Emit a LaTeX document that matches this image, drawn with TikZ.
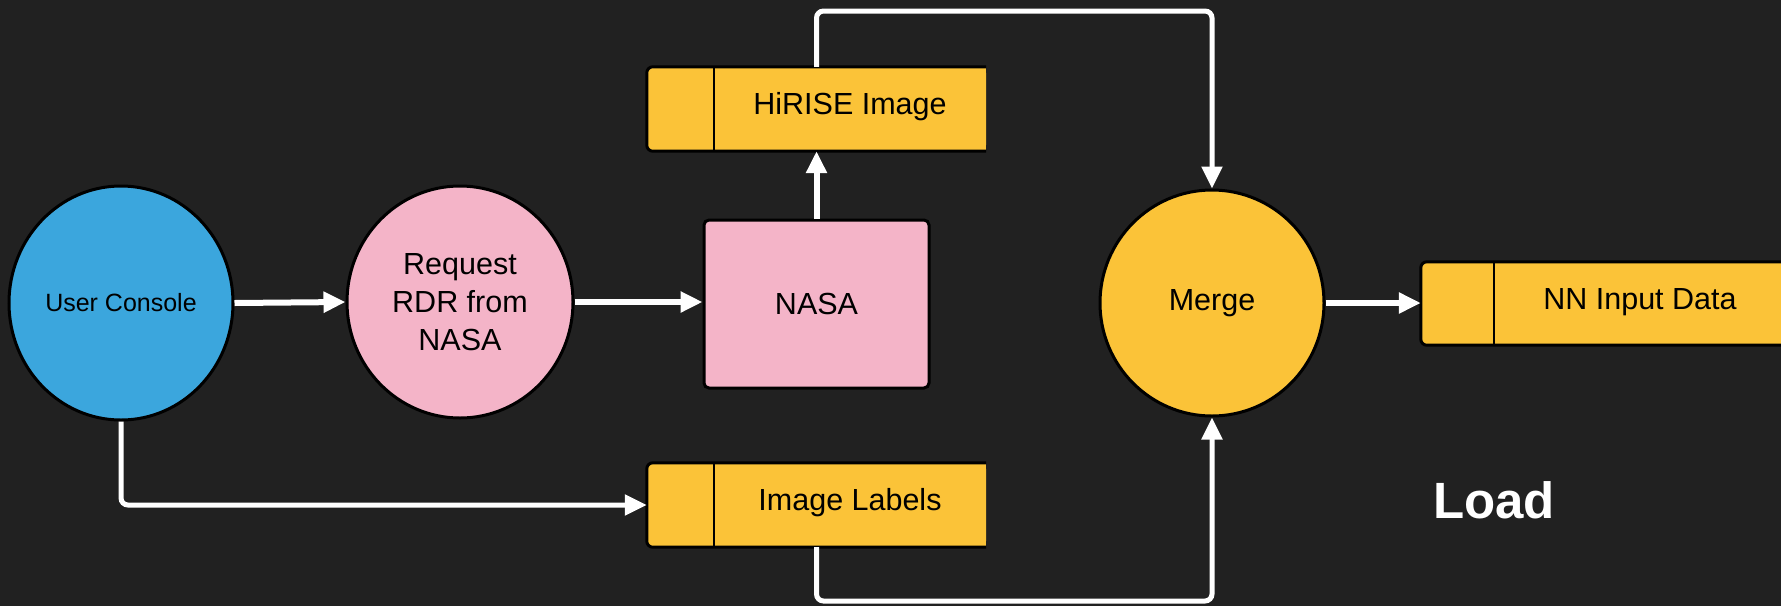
\documentclass[tikz,border=0pt]{standalone}
\usepackage{fontspec}
\setmainfont{Liberation Sans}
\usetikzlibrary{arrows.meta,shapes.geometric}
\definecolor{bg}{HTML}{212121}
\definecolor{ucblue}{HTML}{3BA6DD}
\definecolor{pinkc}{HTML}{F4B4C8}
\definecolor{yel}{HTML}{FBC338}
\begin{document}
\begin{tikzpicture}[x=1pt,y=-1pt,
  txt/.style={font=\fontsize{30.5}{38}\selectfont, text=black, align=center},
  circ/.style={ellipse, draw=black, line width=3pt, inner sep=0pt, align=center, text=black},
  store/.style={rectangle, fill=yel, rounded corners=6pt, minimum width=339pt, minimum height=84pt, inner sep=0pt},
  border/.style={draw=black, line width=3pt, rounded corners=6pt},
  divider/.style={draw=black, line width=2.5pt},
  conn/.style={draw=white, line width=6pt, -{Triangle[length=22pt,width=20pt]}},
  bent/.style={draw=white, line width=5pt, rounded corners=7pt, -{Triangle[length=22pt,width=20pt]}}
]
\fill[bg] (0,0) rectangle (1781,606);
\useasboundingbox (0,0) rectangle (1781,606);

% circles
\node[circ, fill=ucblue, minimum width=224pt, minimum height=234pt, font=\fontsize{25}{30}\selectfont] (uc) at (121,303) {User Console};
\node[circ, fill=pinkc, minimum width=226pt, minimum height=232pt, font=\fontsize{30.5}{38}\selectfont] (req) at (460,302) {Request\\RDR from\\NASA};
\node[circ, fill=yel, minimum width=224pt, minimum height=226pt, font=\fontsize{30.5}{38}\selectfont] (merge) at (1212,303) {Merge};

% NASA
\node[rectangle, fill=pinkc, draw=black, line width=3pt, rounded corners=5pt, minimum width=225pt, minimum height=168pt, txt] (nasa) at (816.5,304) {NASA};

% data stores
\node[store] (hir) at (816.5,109) {};
\fill[yel] (hir.north) rectangle (hir.south east);
\draw[border] (hir.north east) -| (hir.south west) -- (hir.south east);
\draw[divider] (714,67) -- (714,151);
\node[txt] (hirt) at (850,107) {HiRISE Image};

\node[store] (il) at (816.5,505) {};
\fill[yel] (il.north) rectangle (il.south east);
\draw[border] (il.north east) -| (il.south west) -- (il.south east);
\draw[divider] (714,463) -- (714,547);
\node[txt] (ilt) at (850,503) {Image Labels};

\node[store, minimum width=362pt, minimum height=83pt] (nn) at (1602,303.5) {};
\fill[yel] (nn.north) rectangle (nn.south east);
\draw[border] (nn.north east) -| (nn.south west) -- (nn.south east);
\draw[divider] (1494,262) -- (1494,345);
\node[txt] (nnt) at (1640,302) {NN Input Data};

\node[font=\bfseries\fontsize{51}{60}\selectfont, text=white] (load) at (1494,500) {Load};

% connectors
\coordinate (tp) at (0,11);
\coordinate (bt) at (0,601);
\draw[conn] (uc.east) -- (req.west);
\draw[conn] (req.east) -- (req.east -| nasa.west);
\draw[conn] (nasa.north) -- (hir.south);
\draw[conn] (merge.east) -- (merge.east -| nn.west);
\draw[bent] (hir.north) -- (hir.north |- tp) -| (merge.north);
\draw[bent] (il.south) -- (il.south |- bt) -| (merge.south);
\draw[bent] (uc.south) |- (il.west);
\end{tikzpicture}
\end{document}
